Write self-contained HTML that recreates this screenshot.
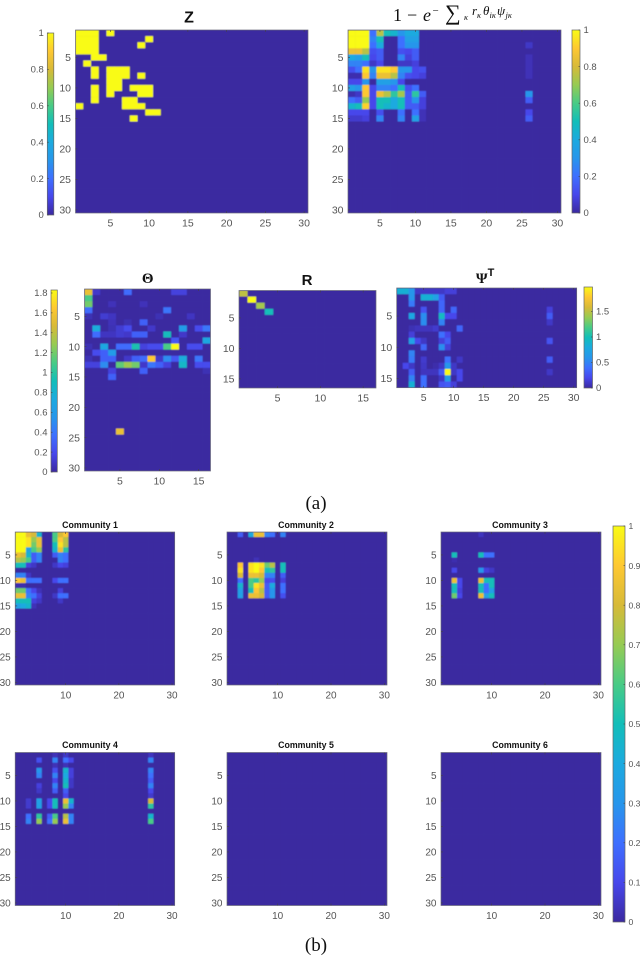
<!DOCTYPE html>
<html lang="en">
<head>
<meta charset="utf-8">
<title>Heatmap figure</title>
<style>
html,body{margin:0;padding:0;background:#fff;}
svg{display:block;}
text{font-family:"Liberation Sans",sans-serif;}
.math{font-family:"Liberation Serif","DejaVu Serif",serif;fill:#111;}
</style>
</head>
<body>
<svg id="fig" xmlns="http://www.w3.org/2000/svg" width="640" height="959" viewBox="0 0 640 959">
  <defs id="defs">
    <filter id="soft" x="-5%" y="-5%" width="110%" height="110%"><feGaussianBlur stdDeviation="0.45"/></filter>
  </defs>
  <text x="189" y="22.5" text-anchor="middle" font-size="16" font-weight="bold" fill="#111">Z</text>
  <g class="math">
    <text class="math" x="393" y="21" font-size="18">1</text>
    <text class="math" x="407" y="21" font-size="18">−</text>
    <text class="math" x="423" y="21" font-size="18" font-style="italic">e</text>
    <text class="math" x="432.5" y="14" font-size="11">−</text>
    <text class="math" x="445" y="20" font-size="22">∑</text>
    <text class="math" x="464" y="20" font-size="8.5" font-style="italic">κ</text>
    <text class="math" x="472" y="15" font-size="13" font-style="italic">r</text>
    <text class="math" x="477" y="18" font-size="8.5" font-style="italic">κ</text>
    <text class="math" x="483" y="15" font-size="13" font-style="italic">θ</text>
    <text class="math" x="489.5" y="18" font-size="8.5" font-style="italic">iκ</text>
    <text class="math" x="497" y="15" font-size="13" font-style="italic">ψ</text>
    <text class="math" x="505.5" y="18" font-size="8.5" font-style="italic">jκ</text>
  </g>
  <text class="math" x="147.7" y="283" text-anchor="middle" font-size="15" font-weight="bold">Θ</text>
  <text x="307" y="285" text-anchor="middle" font-size="15" font-weight="bold" fill="#111">R</text>
  <text class="math" x="481.7" y="283" text-anchor="middle" font-size="15" font-weight="bold">Ψ</text>
  <text x="491" y="276" text-anchor="middle" font-size="11" font-weight="bold" fill="#111">T</text>
  <text class="math" x="316" y="509" text-anchor="middle" font-size="19">(a)</text>
  <text class="math" x="316" y="951" text-anchor="middle" font-size="19">(b)</text>
  <text x="90" y="528" text-anchor="middle" font-size="8.8" font-weight="bold" fill="#111">Community 1</text>
  <text x="306" y="528" text-anchor="middle" font-size="8.8" font-weight="bold" fill="#111">Community 2</text>
  <text x="520" y="528" text-anchor="middle" font-size="8.8" font-weight="bold" fill="#111">Community 3</text>
  <text x="90" y="748" text-anchor="middle" font-size="8.8" font-weight="bold" fill="#111">Community 4</text>
  <text x="306" y="748" text-anchor="middle" font-size="8.8" font-weight="bold" fill="#111">Community 5</text>
  <text x="520" y="748" text-anchor="middle" font-size="8.8" font-weight="bold" fill="#111">Community 6</text>
</svg>
<script>
var zValues = [
[1,1,1,0,1],
[1,1,1,0,0,0,0,0,0,1],
[1,1,1,0,0,0,0,0,1],
[1,1,1],
[0,0,1,1],
[0,1],
[0,0,1,0,1,1,1],
[0,0,1,0,1,1,1,0,1],
[0,0,0,0,1,1],
[0,0,1,0,1,1,0,1,1,1],
[0,0,1,0,1,0,0,0,1,1],
[0,0,1,0,0,0,1,1],
[1,0,0,0,0,0,1,1,1],
[0,0,0,0,0,0,0,0,0,1,1],
[0,0,0,0,0,0,0,1]
];
var rateValues = [
[1,1,1,.2,.75,.5,.45,.3,.4,.4],
[1,1,1,.25,.5,0,0,.2,.35,.35],
[1,1,1,.2,.4,0,0,.2,.3,.3],
[.85,.85,.75,.12,.15,0,0,.12,.1,.15],
[.4,.35,.5,.1,.15,0,0,.25,.08,.15],
[.25,.25,.2,.05,.1,0,0,.05,.05,.08],
[.12,.2,.95,.3,.95,.95,.9,.3,.3,.1,.12],
[.02,.02,.9,.25,.85,.85,.75,.25,.12,.1,.08],
[.1,.1,.3,0,.35,.35,.3,.1],
[.35,.3,.9,.1,.25,.25,.2,.5,.12,.2],
[.02,.05,.9,.1,.85,.75,.55,.72,.15,.55,.15],
[.2,.15,.7,.1,.5,.5,.4,.5,.15,.3,.08],
[.45,.5,.92,.1,.5,.45,.4,.5,.15,.15,.08],
[.1,.1,.1,0,.12,0,0,.2,0,.2,.03],
[.06,.06,.08,0,.25,0,0,.25,0,.35,.03]
];
var rateCol26 = [0,0,.05,0,.03,.03,.03,.03,0,0,.3,.15,0,.1,.15];
var thetaValues = [
[1.55,.1,0,0,0,.35,0,0,0,0,0,.15,.15],
[1.1],
[1.2,0,0,.06,0,0,0,.06],
[.35,0,0,0,0,0,0,0,0,0,.4],
[.05,0,.12,.08,0,0,0,0,0,.05,0,0,0,.08],
[0,0,0,.06,0,.04,0,.3],
[0,.75,0,.05,.12,.2,0,0,.1,0,0,0,.6,0,.2,.4],
[0,.35,.08,.08,.12,.1,.3,.3,0,0,.9,0,.1],
[0,0,0,0,0,0,0,0,0,0,0,.25,0,0,0,.7],
[.05,0,.7,0,.35,.35,.95,.15,.2,.2,1.1,1.83,0,.2,.2],
[0,.2,.3,.6],
[.05,0,.3,.3,0,.1,.3,.35,1.65,.1,.5,.25,.75,0,.4],
[.15,.15,.5,0,1.15,1.3,1.2,.1,.4,.3,.15,0,.85,0,.2,.2],
[0,0,0,.15,0,0,0,.3,0,0,0,0,0,0,0,.05],
[0,0,0,.3],
[],[],[],[],[],[],[],[],
[0,0,0,0,1.55]
];
var rValues = [
[.76],
[0,1],
[0,0,.72],
[0,0,0,.5]
];
var psiValues = [
[.85,.85,.6,.1,.1,.1,.1,.1,.15,.15],
[0,0,.6,0,.85,.85,.7,.3],
[0,0,.45,0,0,0,0,.35],
[0,0,0,0,.25,0,0,.35,0,.35],
[0,0,.75,0,.55,0,0,.95,.2,.2],
[0,0,0,0,.55,0,0,.5],
[0,0,.05,.08,.08,.08,.12,0,0,0,.35],
[0,0,.15,0,0,0,0,.4,.2],
[0,0,.7,.2,.1,0,0,.15,.3],
[0,0,0,0,.35,0,0,.55,.15],
[0,0,.5],
[0,0,.45,0,.12,0,0,0,.4,0,.1],
[0,.2,.1,0,.1,0,.03,.1,.6,.1],
[0,0,.3,0,.08,.08,.08,.3,1.98,.1,.2],
[0,0,.5,0,.4,0,0,.1,.65,0,.2],
[0,0,.85,0,.4,0,0,.25,.3,.15]
];
var psiCol26 = [0,0,0,.15,.3,.1,0,0,.25,0,0,.3,0,.1,0,0];
var community1Values = [
[1,1,.85,.8,.45,0,0,.6,.8,.9],
[1,1,.95,.7,.85,0,0,.6,.9,.75],
[1,1,.95,.65,.85,0,0,.5,.95,.75],
[1,1,.35,.6,.7,0,0,.45,.85,.55],
[.85,.8,.45,.15,.25,0,0,.15,.25,.2],
[.75,.7,.6,.15,.25,0,0,0,.25,.2],
[.5,.5,.08,.05,0,0,0,.05,.1,.08],
[],
[.25,.25,.05],
[.9,.85,.2,.2,.2,0,0,.1,.2,.2],
[.02,.02],
[.65,.65,.2,.1,.03,0,0,0,.08],
[.85,.85,.25,.2,.08,0,0,.05,.2,.2],
[.5,.5,.5,.08,.05,0,0,0,.05],
[.35,.4,.45,.03]
];
var community2Values = [
[0,0,.15,0,.4,.85,.85,.25,.2,0,.25],
[],[],[],[],
[0,0,0,0,0,.03],
[0,0,.9,0,.95,1,.95,.65,.75,0,.5],
[0,0,.95,0,.95,1,.9,.5,.55,0,.5],
[0,0,.8,0,.85,.85,.8,.25,.25,0,.15],
[0,0,.2,0,.6,.55,.7,.1,.12,0,.08],
[0,0,.45,0,.6,.95,.85,.15,.4,0,.2],
[0,0,.35,0,.5,.9,.75,.15,.3,0,.2],
[0,0,.35,0,.85,.85,.8,.15,.3,0,.12]
];
var community3Values = [
[0,0,0,0,0,0,0,.04],
[],[],[],
[0,0,.5,0,0,0,0,.5,.2,.2],
[0,0,.02],
[],
[0,0,.1,0,0,0,0,.3,.08,.05],
[],
[0,0,.85,.1,0,0,0,.85,.5,.5],
[0,0,.5,.1,0,0,0,.5,.2,.5],
[0,0,.5,.08,0,0,0,.5,.2,.35],
[0,0,.65,.1,0,0,0,.85,.35,.5]
];
var community4Values = [
[0,0,0,0,0,0,0,.03,0,.05],
[0,0,0,0,.12,0,0,.25,0,.2,.1],
[0,0,0,0,0,0,0,.03,0,.03],
[0,0,0,0,.3,0,0,.12,0,.45,.08],
[0,0,0,0,.25,0,0,.25,0,.4,.08],
[0,0,0,0,0,0,0,.1,0,.45,.05],
[0,0,0,0,.08,0,0,.25,0,.5,.05],
[0,0,0,0,.05,0,0,.15,0,.15],
[0,0,0,0,0,0,0,0,0,.1],
[0,0,.06,0,.35,0,.1,.5,0,.85,.45],
[0,0,.06,0,.35,0,.1,.5,0,.7,.25],
[],
[0,0,.2,0,.55,0,.15,.6,0,.75,.25],
[0,0,.25,0,.7,0,.2,.7,0,.85,.25]
];
var community4Col26 = [.04,.25,0,.25,.2,.15,.25,.1,.06,.8,.55,0,.45,.6];
var community5Values = [];
var community6Values = [];
var ticks30 = [5,10,15,20,25,30];
var ticks16 = [5,10,15];
var ticksCommX = [10,20,30];
var unitBarTicks = [0,.2,.4,.6,.8,1];
var unitBarLabels = ['0','0.2','0.4','0.6','0.8','1'];
var thetaBarTicks = [0,.2,.4,.6,.8,1,1.2,1.4,1.6,1.8];
var thetaBarLabels = ['0','0.2','0.4','0.6','0.8','1','1.2','1.4','1.6','1.8'];
var psiBarTicks = [0,.5,1,1.5];
var psiBarLabels = ['0','0.5','1','1.5'];
var commBarTicks = [0,.1,.2,.3,.4,.5,.6,.7,.8,.9,1];
var commBarLabels = ['0','0.1','0.2','0.3','0.4','0.5','0.6','0.7','0.8','0.9','1'];

var NS = 'http://www.w3.org/2000/svg';
var svg = document.getElementById('fig');
var defs = document.getElementById('defs');
var PAR = [[59,41,160],[71,71,235],[62,111,255],[39,150,235],[28,170,223],[18,190,185],[72,203,134],[150,203,83],[215,186,56],[254,200,50],[249,251,21]];
function parula(t){
  t = Math.max(0, Math.min(1, t)) * 10;
  var i = Math.min(9, Math.floor(t)), f = t - i, a = PAR[i], b = PAR[i + 1];
  return 'rgb(' + Math.round(a[0] + (b[0] - a[0]) * f) + ',' + Math.round(a[1] + (b[1] - a[1]) * f) + ',' + Math.round(a[2] + (b[2] - a[2]) * f) + ')';
}
function mk(tag, attrs, parent){
  var e = document.createElementNS(NS, tag);
  for (var k in attrs) e.setAttribute(k, attrs[k]);
  parent.appendChild(e);
  return e;
}
function heatmap(p){
  var g = mk('g', {}, svg);
  
  
  var cw = p.w / p.cols, rh = p.h / p.rows;
  function xAxis(v){ return p.x + (v - 0.5) * cw; }
  function yAxis(v){ return p.y + (v - 0.5) * rh; }
  var clip = mk('clipPath', {id: p.name + '-clip'}, defs);
  mk('rect', {x: p.x, y: p.y, width: p.w, height: p.h}, clip);
  var clipped = mk('g', {'clip-path': 'url(#' + p.name + '-clip)'}, g);
  
  
  mk('rect', {x: p.x, y: p.y, width: p.w, height: p.h, fill: parula(0)}, clipped);
  var cells = mk('g', {filter: 'url(#soft)'}, clipped);
  
  
  for (var r = 0; r < p.rows; r++) {
    for (var c = 0; c < p.cols; c++) {
      var v = (p.data[r] && p.data[r][c]) || 0;
      if (p.col26 && c === 25) v = p.col26[r] || 0;
      var cell = mk('rect', {x: p.x + c * cw, y: p.y + r * rh, width: cw + 0.3, height: rh + 0.3, fill: parula(v / p.vmax)}, cells);
      
      
    }
  }
  var box = mk('rect', {x: p.x, y: p.y, width: p.w, height: p.h, fill: 'none', stroke: '#6a6a7a', 'stroke-width': 0.7}, g);
  
  
  var fs = p.fs || 10.5;
  p.xt.forEach(function(t){
    var x = xAxis(t);
    var tick = mk('line', {x1: x, x2: x, y1: p.y + p.h, y2: p.y + p.h - 2, stroke: '#444', 'stroke-width': 0.6}, g);
    
    
    var top = mk('line', {x1: x, x2: x, y1: p.y, y2: p.y + 2, stroke: '#444', 'stroke-width': 0.6}, g);
    
    
    var lab = mk('text', {x: x, y: p.y + p.h + 13.5, 'text-anchor': 'middle', 'font-size': fs, fill: '#555'}, g);
    
    
    lab.textContent = t;
  });
  p.yt.forEach(function(t){
    var y = yAxis(t);
    var tick = mk('line', {x1: p.x, x2: p.x + 2, y1: y, y2: y, stroke: '#444', 'stroke-width': 0.6}, g);
    
    
    var lab = mk('text', {x: p.x - 4.5, y: y + 3.7, 'text-anchor': 'end', 'font-size': fs, fill: '#555'}, g);
    
    
    lab.textContent = t;
  });
}
var gradient = mk('linearGradient', {id: 'parula', x1: 0, y1: 1, x2: 0, y2: 0}, defs);
for (var i = 0; i <= 10; i++) {
  mk('stop', {offset: i / 10, 'stop-color': parula(i / 10)}, gradient);
}
function colorbar(b){
  var g = mk('g', {}, svg);
  
  
  var bar = mk('rect', {x: b.x, y: b.y, width: b.w, height: b.h, fill: 'url(#parula)', stroke: '#666', 'stroke-width': 0.7}, g);
  
  
  b.ticks.forEach(function(t, i){
    var y = b.y + b.h - (t / b.vmax) * b.h;
    var tick = mk('line', {x1: b.side === 'left' ? b.x : b.x + b.w, x2: b.side === 'left' ? b.x + 1.5 : b.x + b.w - 1.5, y1: y, y2: y, stroke: '#444', 'stroke-width': 0.6}, g);
    
    
    var lab = mk('text', {x: b.side === 'left' ? b.x - 3.5 : b.x + b.w + 3.5, y: y + 3.2, 'text-anchor': b.side === 'left' ? 'end' : 'start', 'font-size': b.fs || 9.5, fill: '#555'}, g);
    
    
    lab.textContent = b.labels[i];
  });
}
heatmap({name:'z-heatmap', data:zValues, rows:30, cols:30, vmax:1, x:75.5, y:30, w:232.5, h:183, xt:ticks30, yt:ticks30});
heatmap({name:'rate-heatmap', data:rateValues, col26:rateCol26, rows:30, cols:30, vmax:1, x:348, y:30, w:213, h:183, xt:ticks30, yt:ticks30});
heatmap({name:'theta-heatmap', data:thetaValues, rows:30, cols:16, vmax:1.83, x:84.5, y:289, w:126, h:182, xt:ticks16, yt:ticks30});
heatmap({name:'r-heatmap', data:rValues, rows:16, cols:16, vmax:1, x:239, y:290.5, w:137, h:97.5, xt:ticks16, yt:ticks16});
heatmap({name:'psi-heatmap', data:psiValues, col26:psiCol26, rows:16, cols:30, vmax:1.98, x:396.7, y:288, w:180, h:99.7, xt:ticks30, yt:ticks16});
heatmap({name:'community-1-heatmap', data:community1Values, rows:30, cols:30, vmax:1, x:15.2, y:532, w:159.5, h:153, xt:ticksCommX, yt:ticks30, fs:10});
heatmap({name:'community-2-heatmap', data:community2Values, rows:30, cols:30, vmax:1, x:227, y:532, w:160, h:153, xt:ticksCommX, yt:ticks30, fs:10});
heatmap({name:'community-3-heatmap', data:community3Values, rows:30, cols:30, vmax:1, x:441, y:532, w:160, h:153, xt:ticksCommX, yt:ticks30, fs:10});
heatmap({name:'community-4-heatmap', data:community4Values, col26:community4Col26, rows:30, cols:30, vmax:1, x:15.2, y:752.5, w:159.5, h:153, xt:ticksCommX, yt:ticks30, fs:10});
heatmap({name:'community-5-heatmap', data:community5Values, rows:30, cols:30, vmax:1, x:227, y:752.5, w:160, h:153, xt:ticksCommX, yt:ticks30, fs:10});
heatmap({name:'community-6-heatmap', data:community6Values, rows:30, cols:30, vmax:1, x:441, y:752.5, w:160, h:153, xt:ticksCommX, yt:ticks30, fs:10});
colorbar({name:'z-colorbar', x:47.3, y:33, w:6.5, h:182, vmax:1, ticks:unitBarTicks, labels:unitBarLabels, side:'left'});
colorbar({name:'rate-colorbar', x:572, y:30, w:8, h:183, vmax:1, ticks:unitBarTicks, labels:unitBarLabels, side:'right'});
colorbar({name:'theta-colorbar', x:51, y:290, w:6.3, h:182, vmax:1.83, ticks:thetaBarTicks, labels:thetaBarLabels, side:'left'});
colorbar({name:'psi-colorbar', x:584, y:287, w:8.5, h:101, vmax:1.98, ticks:psiBarTicks, labels:psiBarLabels, side:'right'});
colorbar({name:'community-colorbar', x:613, y:526, w:12, h:396, vmax:1, ticks:commBarTicks, labels:commBarLabels, side:'right', fs:8.6});
</script>
</body>
</html>
